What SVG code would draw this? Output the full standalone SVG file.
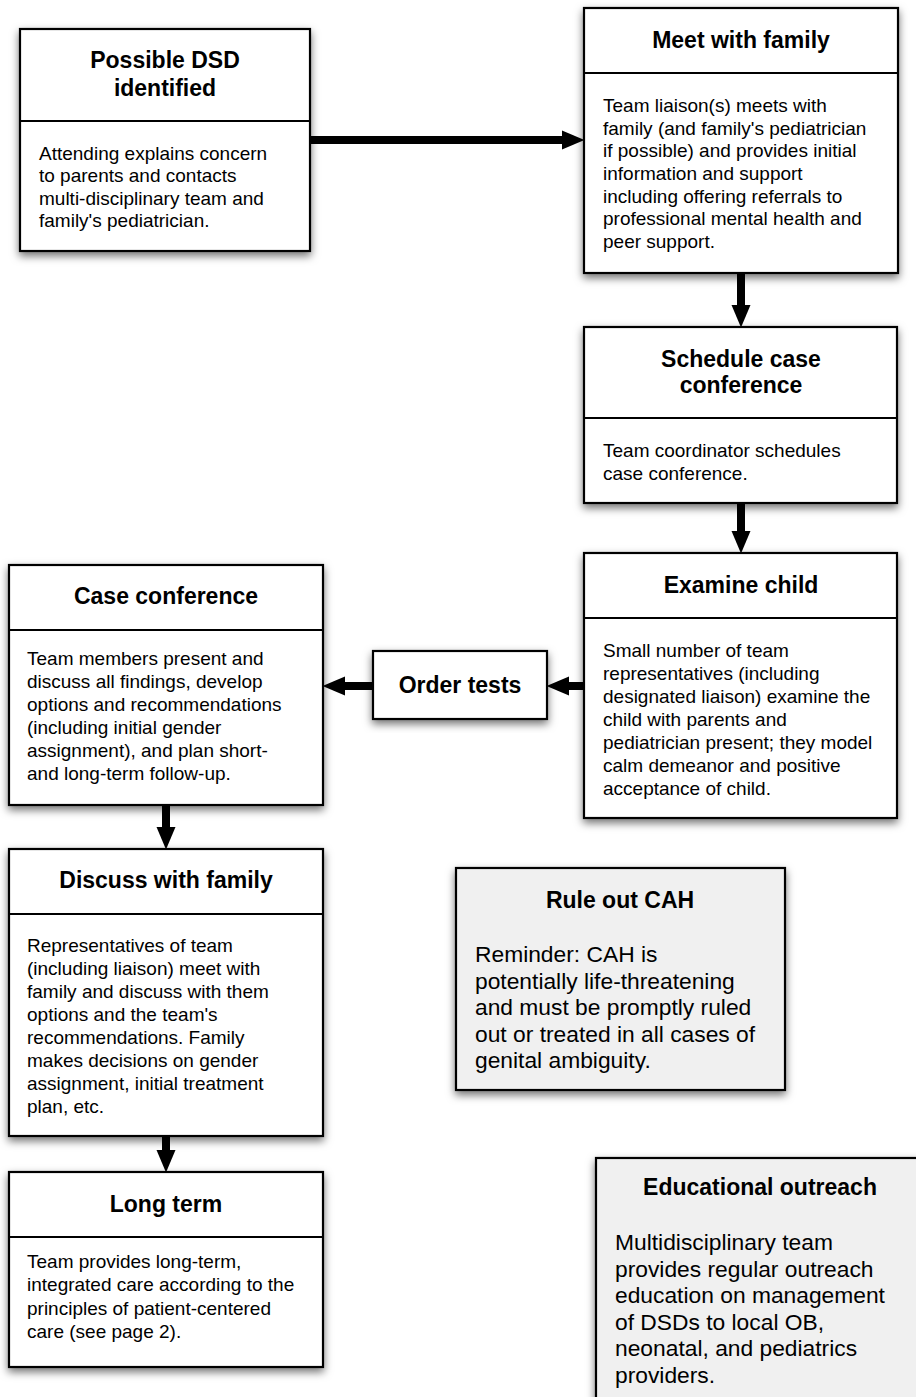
<svg xmlns="http://www.w3.org/2000/svg" width="916" height="1397" viewBox="0 0 916 1397">
<style>
.box{fill:#fff;stroke:#000;stroke-width:2.2;filter:url(#sh)}
.gbox{fill:#f0f0f0;stroke:#000;stroke-width:2.2;filter:url(#sh)}
.div{stroke:#000;stroke-width:2.2}
.t{font-family:"Liberation Sans",Arial,Helvetica,sans-serif;font-weight:bold;font-size:23px;fill:#000;text-anchor:middle}
.b{font-family:"Liberation Sans",Arial,Helvetica,sans-serif;font-size:19px;fill:#000}
.g{font-family:"Liberation Sans",Arial,Helvetica,sans-serif;font-size:22.8px;fill:#000}
.arr{stroke:#000;stroke-width:8;fill:none;marker-end:url(#ah)}
</style>
<defs>
<filter id="sh" x="-10%" y="-10%" width="120%" height="130%">
<feDropShadow dx="0" dy="4" stdDeviation="4" flood-color="#000" flood-opacity="0.55"/>
</filter>
<marker id="ah" markerUnits="userSpaceOnUse" markerWidth="23" markerHeight="20" refX="0" refY="10" orient="auto">
<path d="M0,0.5 L22.5,10 L0,19.5 Z" fill="#000"/>
</marker>
</defs>
<rect width="916" height="1397" fill="#fff"/>

<g id="connectors">
<path class="arr" d="M310,140 L562,140"/>
<path class="arr" d="M741,273 L741,305"/>
<path class="arr" d="M741,503 L741,531"/>
<path class="arr" d="M584,686 L569,686"/>
<path class="arr" d="M373,686 L345,686"/>
<path class="arr" d="M166,805 L166,827"/>
<path class="arr" d="M166,1136 L166,1150"/>
</g>

<g id="possible-dsd">
<rect class="box" x="20" y="29" width="290" height="222"/>
<line class="div" x1="20" y1="121" x2="310" y2="121"/>
<text class="t" x="165" y="68">Possible DSD</text>
<text class="t" x="165" y="96">identified</text>
<text class="b" x="39" y="160">Attending explains concern</text>
<text class="b" x="39" y="182.3">to parents and contacts</text>
<text class="b" x="39" y="204.6">multi-disciplinary team and</text>
<text class="b" x="39" y="227">family's pediatrician.</text>
</g>

<g id="meet-family">
<rect class="box" x="584" y="8" width="314" height="265"/>
<line class="div" x1="584" y1="73" x2="898" y2="73"/>
<text class="t" x="741" y="48">Meet with family</text>
<text class="b" x="603" y="112">Team liaison(s) meets with</text>
<text class="b" x="603" y="134.7">family (and family's pediatrician</text>
<text class="b" x="603" y="157.4">if possible) and provides initial</text>
<text class="b" x="603" y="180">information and support</text>
<text class="b" x="603" y="202.7">including offering referrals to</text>
<text class="b" x="603" y="225.4">professional mental health and</text>
<text class="b" x="603" y="248">peer support.</text>
</g>

<g id="schedule-conference">
<rect class="box" x="584" y="327" width="313" height="176"/>
<line class="div" x1="584" y1="418" x2="897" y2="418"/>
<text class="t" x="741" y="367">Schedule case</text>
<text class="t" x="741" y="393">conference</text>
<text class="b" x="603" y="457">Team coordinator schedules</text>
<text class="b" x="603" y="480">case conference.</text>
</g>

<g id="examine-child">
<rect class="box" x="584" y="553" width="313" height="265"/>
<line class="div" x1="584" y1="618" x2="897" y2="618"/>
<text class="t" x="741" y="593">Examine child</text>
<text class="b" x="603" y="657">Small number of team</text>
<text class="b" x="603" y="680">representatives (including</text>
<text class="b" x="603" y="703">designated liaison) examine the</text>
<text class="b" x="603" y="726">child with parents and</text>
<text class="b" x="603" y="749">pediatrician present; they model</text>
<text class="b" x="603" y="772">calm demeanor and positive</text>
<text class="b" x="603" y="795">acceptance of child.</text>
</g>

<g id="order-tests">
<rect class="box" x="373" y="651" width="174" height="68"/>
<text class="t" x="460" y="693">Order tests</text>
</g>

<g id="case-conference">
<rect class="box" x="9" y="565" width="314" height="240"/>
<line class="div" x1="9" y1="630" x2="323" y2="630"/>
<text class="t" x="166" y="604">Case conference</text>
<text class="b" x="27" y="665">Team members present and</text>
<text class="b" x="27" y="688">discuss all findings, develop</text>
<text class="b" x="27" y="711">options and recommendations</text>
<text class="b" x="27" y="734">(including initial gender</text>
<text class="b" x="27" y="757">assignment), and plan short-</text>
<text class="b" x="27" y="780">and long-term follow-up.</text>
</g>

<g id="discuss-family">
<rect class="box" x="9" y="849" width="314" height="287"/>
<line class="div" x1="9" y1="914" x2="323" y2="914"/>
<text class="t" x="166" y="888">Discuss with family</text>
<text class="b" x="27" y="952">Representatives of team</text>
<text class="b" x="27" y="975">(including liaison) meet with</text>
<text class="b" x="27" y="998">family and discuss with them</text>
<text class="b" x="27" y="1021">options and the team's</text>
<text class="b" x="27" y="1044">recommendations. Family</text>
<text class="b" x="27" y="1067">makes decisions on gender</text>
<text class="b" x="27" y="1090">assignment, initial treatment</text>
<text class="b" x="27" y="1113">plan, etc.</text>
</g>

<g id="long-term">
<rect class="box" x="9" y="1172" width="314" height="195"/>
<line class="div" x1="9" y1="1237" x2="323" y2="1237"/>
<text class="t" x="166" y="1212">Long term</text>
<text class="b" x="27" y="1268">Team provides long-term,</text>
<text class="b" x="27" y="1291.3">integrated care according to the</text>
<text class="b" x="27" y="1314.6">principles of patient-centered</text>
<text class="b" x="27" y="1338">care (see page 2).</text>
</g>

<g id="rule-out-cah">
<rect class="gbox" x="456" y="868" width="329" height="222"/>
<text class="t" x="620" y="908">Rule out CAH</text>
<text class="g" x="475" y="962">Reminder: CAH is</text>
<text class="g" x="475" y="988.6">potentially life-threatening</text>
<text class="g" x="475" y="1015.2">and must be promptly ruled</text>
<text class="g" x="475" y="1041.8">out or treated in all cases of</text>
<text class="g" x="475" y="1068.4">genital ambiguity.</text>
</g>

<g id="educational-outreach">
<rect class="gbox" x="596" y="1158" width="340" height="300"/>
<text class="t" x="760" y="1195">Educational outreach</text>
<text class="g" x="615" y="1250">Multidisciplinary team</text>
<text class="g" x="615" y="1276.6">provides regular outreach</text>
<text class="g" x="615" y="1303.2">education on management</text>
<text class="g" x="615" y="1329.8">of DSDs to local OB,</text>
<text class="g" x="615" y="1356.4">neonatal, and pediatrics</text>
<text class="g" x="615" y="1383">providers.</text>
</g>
</svg>
